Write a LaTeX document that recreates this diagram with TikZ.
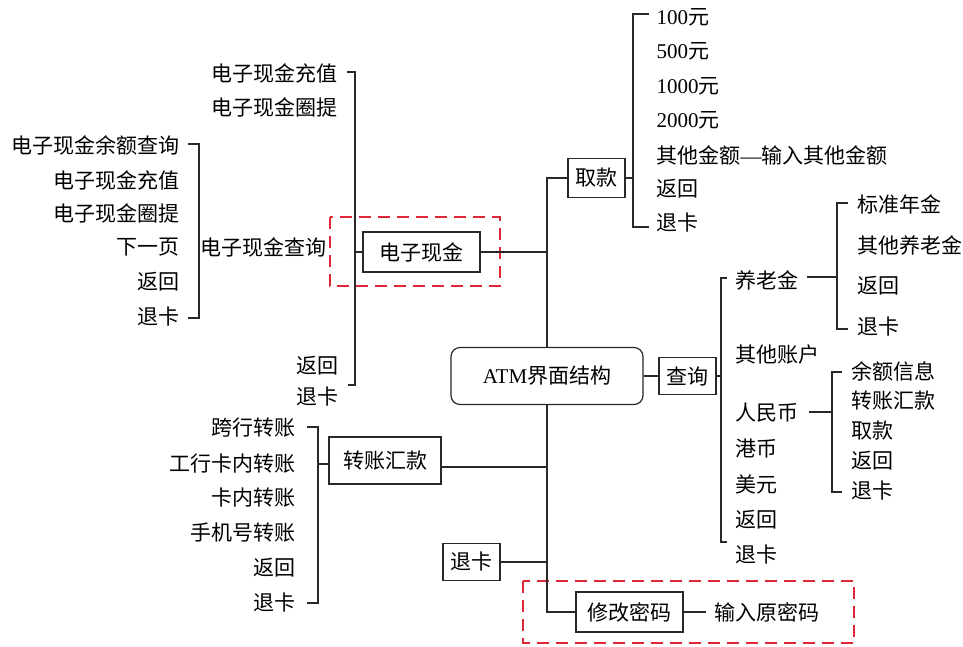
\documentclass[tikz,border=0pt]{standalone}
\usepackage{fontspec}
\setmainfont{Liberation Serif}
\newfontfamily\cjk{Noto Sans CJK SC}
\definecolor{lin}{RGB}{40,40,40}
\definecolor{redd}{RGB}{222,40,55}
\begin{document}
\begin{tikzpicture}[x=1pt,y=-1pt,line width=1.2pt,draw=lin,
  font=\cjk\fontsize{21}{25}\selectfont,
  box/.style={draw,inner sep=0pt},
  lt/.style={anchor=west,inner sep=0pt},
  rt/.style={anchor=east,inner sep=0pt},
  redbox/.style={draw=redd,line width=1.3pt,dash pattern=on 12pt off 7pt}]
\useasboundingbox (0,0) rectangle (963,646);
% main boxes
\node[box,minimum width=192,minimum height=57,rounded corners=9] (atm) at (547,376) {{\rmfamily ATM}界面结构};
\node[box,minimum width=57,minimum height=39] (qk) at (596.5,178) {取款};
\node[box,minimum width=117,minimum height=40] (dzxj) at (421.5,252) {电子现金};
\node[box,minimum width=112,minimum height=47] (zzhk) at (385,460.5) {转账汇款};
\node[box,minimum width=57,minimum height=37] (tk) at (471.5,562) {退卡};
\node[box,minimum width=107,minimum height=40] (xgmm) at (629.5,612) {修改密码};
\node[box,minimum width=57,minimum height=37] (cx) at (687.5,376) {查询};
% red dashed frames
\draw[redbox] (330,217) rectangle (500,286);
\draw[redbox] (523,581) rectangle (854,643);
% trunk
\coordinate (zzy) at (0,467);
\draw (qk.west) -| (atm.north);
\draw (dzxj.east) -- (dzxj.east -| atm.north);
\draw (zzhk.east |- zzy) -- (atm.south |- zzy);
\draw (tk.east) -- (tk.east -| atm.south);
\draw (atm.south) |- (xgmm.west);
\draw (atm.east) -- (cx.west);
% 取款 items
\node[lt] (q1) at (656,17) {{\rmfamily 100}元};
\node[lt] (q2) at (656,51) {{\rmfamily 500}元};
\node[lt] (q3) at (656,86) {{\rmfamily 1000}元};
\node[lt] (q4) at (656,120) {{\rmfamily 2000}元};
\node[lt] (q5) at (656,155) {其他金额{\rmfamily —}输入其他金额};
\node[lt] (q6) at (656,189) {返回};
\node[lt] (q7) at (656,223) {退卡};
\coordinate (qbar) at (633,178);
\draw (qk.east) -- (qbar);
\draw (649,14) -- (633,14) -- (633,227) -- (649,227);
% 电子现金 items
\node[rt] (e1) at (338,73) {电子现金充值};
\node[rt] (e2) at (338,107) {电子现金圈提};
\node[lt] (e3) at (200,247) {电子现金查询};
\node[lt] (e4) at (296,366) {返回};
\node[lt] (e5) at (296,397) {退卡};
\coordinate (ebar) at (355,252);
\draw (dzxj.west) -- (ebar);
\draw (347,72) -- (355,72) -- (355,385) -- (348,385);
% 电子现金查询 items
\node[rt] (c1) at (180,145) {电子现金余额查询};
\node[rt] (c2) at (180,180) {电子现金充值};
\node[rt] (c3) at (180,213) {电子现金圈提};
\node[rt] (c4) at (180,247) {下一页};
\node[rt] (c5) at (180,282) {返回};
\node[rt] (c6) at (180,317) {退卡};
\draw (188,144) -- (199,144) -- (199,318) -- (188,318);
% 转账汇款 items
\node[rt] (z1) at (296,428) {跨行转账};
\node[rt] (z2) at (296,464) {工行卡内转账};
\node[rt] (z3) at (296,498) {卡内转账};
\node[rt] (z4) at (296,533) {手机号转账};
\node[rt] (z5) at (296,568) {返回};
\node[rt] (z6) at (296,603) {退卡};
\coordinate (zbar) at (318,464);
\draw (zzhk.west |- zbar) -- (zbar);
\draw (307,427) -- (318,427) -- (318,603) -- (307,603);
% 查询 items
\node[lt] (s1) at (735,280) {养老金};
\node[lt] (s2) at (735,355) {其他账户};
\node[lt] (s3) at (735,413) {人民币};
\node[lt] (s4) at (735,449) {港币};
\node[lt] (s5) at (735,484) {美元};
\node[lt] (s6) at (735,520) {返回};
\node[lt] (s7) at (735,555) {退卡};
\coordinate (sbar) at (721,376);
\draw (cx.east) -- (sbar);
\draw (727,278) -- (721,278) -- (721,542) -- (727,542);
% 养老金 items
\node[lt] (y1) at (857,204) {标准年金};
\node[lt] (y2) at (857,245) {其他养老金};
\node[lt] (y3) at (857,286) {返回};
\node[lt] (y4) at (857,327) {退卡};
\coordinate (ybar) at (837,277);
\draw ([xshift=8pt]s1.east |- ybar) -- (ybar);
\draw (848,203) -- (837,203) -- (837,329) -- (848,329);
% 人民币 items
\node[lt] (r1) at (851,371) {余额信息};
\node[lt] (r2) at (851,401) {转账汇款};
\node[lt] (r3) at (851,431) {取款};
\node[lt] (r4) at (851,461) {返回};
\node[lt] (r5) at (851,491) {退卡};
\coordinate (rbar) at (832,412);
\draw ([xshift=10pt]s3.east |- rbar) -- (rbar);
\draw (842,372) -- (832,372) -- (832,492) -- (842,492);
% 修改密码
\node[lt] (m1) at (714,612) {输入原密码};
\draw (xgmm.east) -- ([xshift=-8pt]m1.west);
\end{tikzpicture}
\end{document}
